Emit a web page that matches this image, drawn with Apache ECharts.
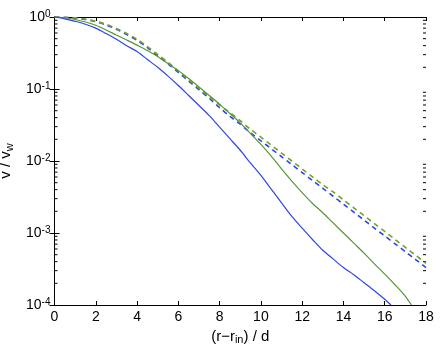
<!DOCTYPE html>
<html>
<head>
<meta charset="utf-8">
<script src="https://cdn.jsdelivr.net/npm/echarts@6/dist/echarts.min.js"></script>
<style>
  html, body { margin: 0; padding: 0; background: #fff; }
  #chart { width: 443px; height: 345px; }
</style>
</head>
<body>
<div id="chart"></div>
<script>
// x positions shared by the dashed curves
var xFull = [0, 0.5, 1, 1.5, 2, 2.5, 3, 3.5, 4, 4.5, 5, 5.5, 6, 6.5, 7, 7.5, 8, 8.5, 9,
  9.5, 10, 10.5, 11, 11.5, 12, 12.5, 13, 13.5, 14, 14.5, 15, 15.5, 16, 16.5, 17, 17.5, 18];
// solid curves stop where they leave the axis at 1e-4
var xBlue = xFull.slice(0, 33).concat([16.3]);
var xGreen = xFull.slice(0, 35).concat([17.3]);

var blueSolid = [1, 0.944, 0.871, 0.794, 0.700, 0.589, 0.490, 0.398, 0.331, 0.257, 0.200,
  0.151, 0.112, 0.0813, 0.0589, 0.0427, 0.0295, 0.0204, 0.0141, 0.00933, 0.00631, 0.00407,
  0.00263, 0.00170, 0.00117, 0.000813, 0.000575, 0.000437, 0.000331, 0.000263, 0.000204,
  0.000158, 0.000120, 0.0001];
var greenSolid = [1, 0.977, 0.923, 0.851, 0.767, 0.661, 0.562, 0.479, 0.407, 0.343, 0.282,
  0.226, 0.180, 0.140, 0.107, 0.0813, 0.0617, 0.0457, 0.0339, 0.0240, 0.0170, 0.0117,
  0.00776, 0.00525, 0.00363, 0.00257, 0.00191, 0.00138, 0.00100, 0.000724, 0.000525,
  0.000372, 0.000269, 0.000191, 0.000132, 0.0001];
var blueDashed = [1, 0.989, 0.966, 0.923, 0.861, 0.776, 0.676, 0.569, 0.473, 0.376, 0.288,
  0.224, 0.170, 0.129, 0.0977, 0.0741, 0.0550, 0.0417, 0.0324, 0.0245, 0.0191, 0.0148,
  0.0115, 0.00891, 0.00692, 0.00537, 0.00417, 0.00324, 0.00251, 0.00195, 0.00151, 0.00117,
  0.000912, 0.000708, 0.000550, 0.000427, 0.000331];
var greenDashed = [1, 0.993, 0.973, 0.933, 0.871, 0.794, 0.692, 0.589, 0.490, 0.389, 0.302,
  0.234, 0.178, 0.135, 0.102, 0.0776, 0.0603, 0.0468, 0.0363, 0.0275, 0.0214, 0.0166,
  0.0129, 0.0100, 0.00776, 0.00603, 0.00468, 0.00372, 0.00288, 0.00224, 0.00174, 0.00135,
  0.00105, 0.000813, 0.000631, 0.000490, 0.000380];

// y tick exponents (labels 10^0 ... 10^-4)
var yExponents = [0, -1, -2, -3, -4];

// minor ticks of the log axis: 2..9 inside every decade
var minorTicks = [];
for (var e = -4; e < 0; e++) {
  for (var k = 2; k <= 9; k++) {
    minorTicks.push([0, k * Math.pow(10, e)]);
  }
}

function pairs(xs, ys) {
  return xs.map(function (x, i) { return [x, ys[i]]; });
}

var font = "'Liberation Sans', Arial, sans-serif";
var chart = echarts.init(document.getElementById("chart"));

var option = {
  animation: false,
  backgroundColor: "#fff",
  grid: {
    left: 54.5,
    right: 17,
    top: 17,
    bottom: 40,
    show: false,
    outerBoundsMode: "none",
    containLabel: false
  },
  xAxis: [
    {
      type: "value",
      min: 0,
      max: 18,
      interval: 2,
      position: "bottom",
      name: "(r\u2212r{s|in}) / d",
      nameLocation: "middle",
      nameGap: 21,
      nameTextStyle: {
        fontFamily: font,
        fontSize: 15,
        color: "#000",
        rich: {
          s: { fontSize: 11, fontFamily: font, color: "#000", verticalAlign: "bottom", padding: [8, 0, 0, 0] }
        }
      },
      axisLine: { show: true, lineStyle: { color: "#000", width: 1 } },
      axisTick: { show: true, inside: true, length: 4, lineStyle: { color: "#000" } },
      axisLabel: { show: true, margin: 5, fontFamily: font, fontSize: 14, color: "#000" },
      splitLine: { show: false }
    },
    {
      type: "value",
      min: 0,
      max: 18,
      interval: 2,
      position: "top",
      axisLine: { show: true, lineStyle: { color: "#000", width: 1 } },
      axisTick: { show: true, inside: true, length: 4, lineStyle: { color: "#000" } },
      axisLabel: { show: false },
      splitLine: { show: false }
    }
  ],
  yAxis: [
    {
      type: "log",
      logBase: 10,
      min: 0.0001,
      max: 1,
      position: "left",
      name: "{a|v / v}{s|w}",
      nameLocation: "middle",
      nameRotate: 90,
      nameGap: 36,
      nameTextStyle: {
        rich: {
          a: { fontFamily: font, fontSize: 15, color: "#000" },
          s: { fontFamily: font, fontSize: 11, color: "#000", verticalAlign: "bottom", padding: [8, 0, 0, 0] }
        }
      },
      axisLine: { show: true, lineStyle: { color: "#000", width: 1 } },
      axisTick: { show: true, inside: true, length: 5, lineStyle: { color: "#000" } },
      axisLabel: {
        show: true,
        margin: 4,
        formatter: function (v) {
          var ex = Math.round(Math.log10(v));
          if (yExponents.indexOf(ex) < 0) return "";
          return "{b|10}{s|" + (ex === 0 ? "0" : "-" + (-ex)) + "}";
        },
        rich: {
          b: { fontFamily: font, fontSize: 14, color: "#000", lineHeight: 16 },
          s: { fontFamily: font, fontSize: 10, color: "#000", verticalAlign: "top", lineHeight: 10 }
        }
      },
      splitLine: { show: false }
    },
    {
      type: "log",
      logBase: 10,
      min: 0.0001,
      max: 1,
      position: "right",
      axisLine: { show: true, lineStyle: { color: "#000", width: 1 } },
      axisTick: { show: true, inside: true, length: 5, lineStyle: { color: "#000" } },
      axisLabel: { show: false },
      splitLine: { show: false }
    }
  ],
  series: [
    {
      type: "custom",
      silent: true,
      clip: false,
      data: minorTicks,
      renderItem: function (params, api) {
        var v = api.value(1);
        var l = api.coord([0, v]);
        var r = api.coord([18, v]);
        return {
          type: "group",
          children: [
            { type: "line", shape: { x1: l[0], y1: l[1], x2: l[0] + 3, y2: l[1] }, style: { stroke: "#000", lineWidth: 1 } },
            { type: "line", shape: { x1: r[0] - 3, y1: r[1], x2: r[0], y2: r[1] }, style: { stroke: "#000", lineWidth: 1 } }
          ]
        };
      }
    },
    {
      name: "blue dashed",
      type: "line",
      data: pairs(xFull, blueDashed),
      showSymbol: false,
      smooth: 0.3,
      lineStyle: { color: "#2f45e6", width: 1.6, type: [5, 4] }
    },
    {
      name: "green dashed",
      type: "line",
      data: pairs(xFull, greenDashed),
      showSymbol: false,
      smooth: 0.3,
      lineStyle: { color: "#74a02e", width: 1.6, type: [5, 4] }
    },
    {
      name: "green solid",
      type: "line",
      data: pairs(xGreen, greenSolid),
      showSymbol: false,
      smooth: 0.3,
      lineStyle: { color: "#56963a", width: 1.2 }
    },
    {
      name: "blue solid",
      type: "line",
      data: pairs(xBlue, blueSolid),
      showSymbol: false,
      smooth: 0.3,
      lineStyle: { color: "#2f45e6", width: 1.2 }
    }
  ]
};

chart.setOption(option);
</script>
</body>
</html>
